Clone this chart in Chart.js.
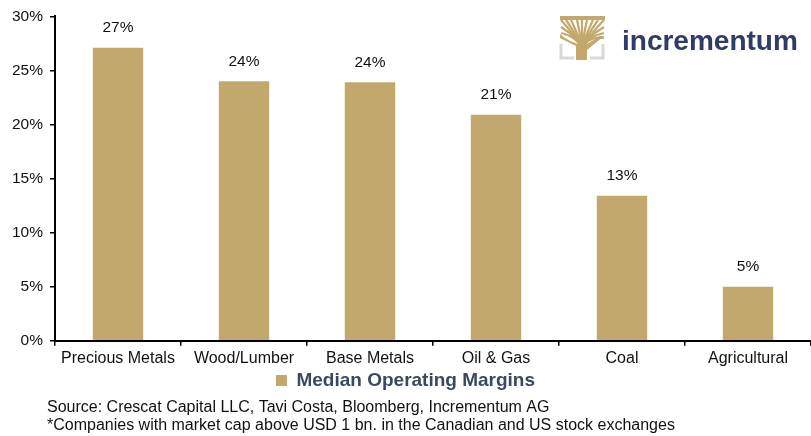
<!DOCTYPE html>
<html>
<head>
<meta charset="utf-8">
<script src="https://cdn.jsdelivr.net/npm/chart.js@4.4.1/dist/chart.umd.min.js"></script>
<style>
  html, body { margin: 0; padding: 0; background: #fff; }
  #wrap { position: relative; width: 811px; height: 436px; }
</style>
</head>
<body>
<div id="wrap"><canvas id="myChart1" width="811" height="436"></canvas></div>
<script>
//------------------ データ ------------------//
const CATEGORIES = ['Precious Metals', 'Wood/Lumber', 'Base Metals', 'Oil & Gas', 'Coal', 'Agricultural']
const MARGINS = [27.1, 24.0, 23.9, 20.9, 13.4, 5.0]        // Median Operating Margins (%)
const VALUE_LABELS = ['27%', '24%', '24%', '21%', '13%', '5%']
const Y_TICKS = [0, 5, 10, 15, 20, 25, 30]
const SERIES_NAME = 'Median Operating Margins'
const SOURCE_LINES = [
    'Source: Crescat Capital LLC, Tavi Costa, Bloomberg, Incrementum AG',
    '*Companies with market cap above USD 1 bn. in the Canadian and US stock exchanges'
]
const GOLD = '#C2A86C'
const FONT = '"Liberation Sans", Arial, sans-serif'
//--------------------------------------------//

// 棒の上に値を描く
const valueLabelPlugin = {
    id: 'valueLabels',
    afterDatasetsDraw(chart) {
        const ctx = chart.ctx
        const meta = chart.getDatasetMeta(0)
        ctx.save()
        ctx.font = '15.5px ' + FONT
        ctx.fillStyle = '#111'
        ctx.textAlign = 'center'
        ctx.textBaseline = 'bottom'
        meta.data.forEach(function (bar, i) {
            ctx.fillText(VALUE_LABELS[i], bar.x, bar.y - 12)
        })
        ctx.restore()
    }
}

// ロゴと出典
const decorPlugin = {
    id: 'decor',
    afterDraw(chart) {
        const ctx = chart.ctx
        ctx.save()
        // 出典
        ctx.font = '16px ' + FONT
        ctx.fillStyle = '#111'
        ctx.textAlign = 'left'
        ctx.textBaseline = 'middle'
        ctx.fillText(SOURCE_LINES[0], 47, 408)
        ctx.fillText(SOURCE_LINES[1], 47, 426)

        // ロゴ: 木のアイコン
        const lx = 560, ly = 16
        ctx.strokeStyle = '#D8D8D8'
        ctx.lineWidth = 3
        ctx.beginPath()
        ctx.moveTo(561, 44); ctx.lineTo(561, 58); ctx.lineTo(574, 58)
        ctx.moveTo(603, 44); ctx.lineTo(603, 58); ctx.lineTo(590, 58)
        ctx.stroke()
        ctx.fillStyle = GOLD
        ctx.fillRect(lx, ly, 45, 4)
        ctx.strokeStyle = GOLD
        ctx.lineWidth = 2.2
        const tips = [[561, 20], [566, 20], [571, 20], [577, 20], [582, 20], [587, 20], [593, 20], [598, 20], [604, 20], [561, 27], [604, 27], [561, 33], [604, 33], [604, 38]]
        tips.forEach(function (t) {
            ctx.beginPath()
            ctx.moveTo(582, 48)
            ctx.quadraticCurveTo(582 + (t[0] - 582) * 0.3, 36, t[0], t[1])
            ctx.stroke()
        })
        ctx.beginPath()
        ctx.moveTo(578, 60); ctx.lineTo(578, 44)
        ctx.quadraticCurveTo(566, 40, 560, 34); ctx.lineTo(560, 38)
        ctx.quadraticCurveTo(572, 44, 576, 46); ctx.lineTo(576, 60)
        ctx.fill()
        ctx.fillRect(578, 40, 9, 20)
        ctx.beginPath()
        ctx.moveTo(578, 44); ctx.lineTo(587, 44); ctx.lineTo(600, 36); ctx.lineTo(604, 36); ctx.lineTo(587, 50)
        ctx.fill()

        // ロゴ: 文字
        ctx.font = 'bold 28px ' + FONT
        ctx.fillStyle = '#2E3D68'
        ctx.textBaseline = 'alphabetic'
        ctx.fillText('incrementum', 622, 50)
        ctx.restore()
    }
}

const ctx = document.getElementById('myChart1')
window.myChart = new Chart(ctx, {
    type: 'bar',
    data: {
        labels: CATEGORIES,
        datasets: [{
            label: SERIES_NAME,
            data: MARGINS,
            backgroundColor: GOLD,
            borderWidth: 0,
            categoryPercentage: 1.0,
            barPercentage: 0.4
        }]
    },
    options: {
        responsive: false,
        animation: false,
        devicePixelRatio: 1,
        layout: { padding: { top: 16, right: 0, bottom: 36, left: 0 } },
        plugins: {
            tooltip: { enabled: false },
            legend: {
                position: 'bottom',
                labels: {
                    boxWidth: 11,
                    boxHeight: 11,
                    padding: 0,
                    color: '#3A4860',
                    font: { family: FONT, size: 19, weight: 'bold' }
                }
            }
        },
        scales: {
            x: {
                grid: { display: true, offset: true, drawOnChartArea: false, color: '#000', tickLength: 5, lineWidth: 1.5 },
                border: { color: '#000', width: 2 },
                ticks: { color: '#111', font: { family: FONT, size: 16 }, padding: 3, maxRotation: 0, autoSkip: false }
            },
            y: {
                min: 0,
                max: 30,
                afterFit: function (scale) { scale.width = 55 },
                afterBuildTicks: function (scale) { scale.ticks = Y_TICKS.map(function (v) { return { value: v } }) },
                grid: { display: true, drawOnChartArea: false, color: '#000', tickLength: 5, lineWidth: 1.5 },
                border: { color: '#000', width: 2 },
                ticks: {
                    color: '#111',
                    font: { family: FONT, size: 15.5 },
                    padding: 7,
                    callback: function (v) { return v + '%' }
                }
            }
        }
    },
    plugins: [valueLabelPlugin, decorPlugin]
})
</script>
</body>
</html>
